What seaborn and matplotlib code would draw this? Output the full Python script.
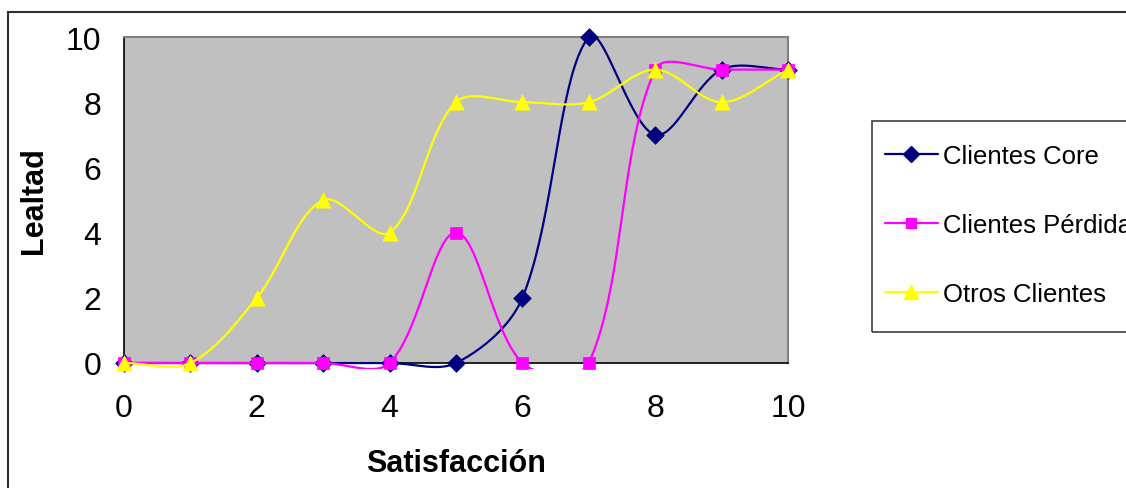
import numpy as np
import pandas as pd
import matplotlib
matplotlib.use("Agg")
import matplotlib.pyplot as plt
from matplotlib.lines import Line2D
from matplotlib.patches import Rectangle
import seaborn as sns

# ---- data ----
satisfaccion = [0, 1, 2, 3, 4, 5, 6, 7, 8, 9, 10]
clientes_core = [0, 0, 0, 0, 0, 0, 2, 10, 7, 9, 9]
clientes_perdida = [0, 0, 0, 0, 0, 4, 0, 0, 9, 9, 9]
otros_clientes = [0, 0, 2, 5, 4, 8, 8, 8, 9, 8, 9]
series_names = ["Clientes Core", "Clientes Pérdida", "Otros Clientes"]
x_ticks = [0, 2, 4, 6, 8, 10]
y_ticks = [0, 2, 4, 6, 8, 10]

colors = ["#000080", "#FF00FF", "#FFFF00"]
markers = ["D", "s", "^"]
msizes = [9, 8.5, 11]

W, H = 1126, 489
AX_L, AX_R, AX_T, AX_B = 124, 788, 38, 364
SX = (AX_R - AX_L) / 10.0   # px per x unit
SY = (AX_B - AX_T) / 10.0   # px per y unit


def smooth(xs, ys, n=40):
    """Excel-like smoothed line: Bezier through the points with
    chord-length weighted tangents (computed in screen space)."""
    P = np.column_stack([np.asarray(xs, float) * SX, np.asarray(ys, float) * SY])
    P = np.vstack([P[0], P, P[-1]])
    out = []
    t = np.linspace(0, 1, n)
    for i in range(1, len(P) - 2):
        p0, p1, p2, p3 = P[i - 1], P[i], P[i + 1], P[i + 2]
        d01 = np.hypot(*(p1 - p0))
        d12 = np.hypot(*(p2 - p1))
        d23 = np.hypot(*(p3 - p2))
        f1 = d12 / (d01 + d12) / 3.0 if d01 + d12 > 0 else 0
        f2 = d12 / (d12 + d23) / 3.0 if d12 + d23 > 0 else 0
        c1 = p1 + (p2 - p0) * f1
        c2 = p2 - (p3 - p1) * f2
        seg = ((1 - t) ** 3)[:, None] * p1 + (3 * (1 - t) ** 2 * t)[:, None] * c1 \
            + (3 * (1 - t) * t ** 2)[:, None] * c2 + (t ** 3)[:, None] * p2
        out.append(seg if i == 1 else seg[1:])
    C = np.vstack(out)
    return C[:, 0] / SX, C[:, 1] / SY


sns.set_theme(style="white")
plt.rcParams["font.family"] = ["Liberation Sans", "DejaVu Sans"]
plt.rcParams["text.color"] = "black"
plt.rcParams["axes.labelcolor"] = "black"

fig = plt.figure(figsize=(W / 100, H / 100), dpi=100)
fig.patch.set_facecolor("white")
ax = fig.add_axes([AX_L / W, 1 - AX_B / H, (AX_R - AX_L) / W, (AX_B - AX_T) / H])
ax.set_facecolor("#C0C0C0")

clip_rect = Rectangle((-1, -6 / SY), 12, 12 + 6 / SY, transform=ax.transData,
                      visible=False)
ax.add_patch(clip_rect)

all_series = [clientes_core, clientes_perdida, otros_clientes]
for k, (name, ys) in enumerate(zip(series_names, all_series)):
    cx, cy = smooth(satisfaccion, ys)
    dfc = pd.DataFrame({"x": cx, "y": cy})
    sns.lineplot(data=dfc, x="x", y="y", ax=ax, color=colors[k], lw=1.6,
                 sort=False, estimator=None, zorder=3 + k)
    ln = ax.lines[-1]
    ln.set_clip_on(True)
    ln.set_clip_path(clip_rect)
    dfp = pd.DataFrame({"x": satisfaccion, "y": ys})
    sns.scatterplot(data=dfp, x="x", y="y", ax=ax, color=colors[k],
                    marker=markers[k], s=msizes[k] ** 2, edgecolor=colors[k],
                    linewidth=0.5, clip_on=False, zorder=3.5 + k)

ax.set_xlim(0, 10)
ax.set_ylim(0, 10)
ax.set_xticks(x_ticks)
ax.set_yticks(y_ticks)
ax.tick_params(axis="both", labelsize=23, colors="black", direction="out",
               length=6.5, width=1)
ax.tick_params(axis="x", pad=15)
ax.tick_params(axis="y", pad=10)
for s in ["left", "bottom"]:
    ax.spines[s].set_color("black")
    ax.spines[s].set_linewidth(1.2)
for s in ["top", "right"]:
    ax.spines[s].set_color("#808080")
    ax.spines[s].set_linewidth(1.5)
ax.set_xlabel("Satisfacción", fontsize=22, fontweight="bold", labelpad=18)
ax.set_ylabel("Lealtad", fontsize=22, fontweight="bold", labelpad=12)

handles = [Line2D([0], [0], color=colors[k], lw=1.6, marker=markers[k],
                  markersize=msizes[k] * 0.9,
                  markeredgecolor=colors[k]) for k in range(3)]
leg = fig.legend(handles, series_names, loc="upper left",
                 bbox_to_anchor=(885 / W, 1 - 145 / H), fontsize=18.5,
                 frameon=False, handlelength=2.05,
                 handletextpad=0.2, labelspacing=1.75, borderpad=0,
                 borderaxespad=0)

# legend frame and chart border
fig.patches.append(Rectangle((872 / W, 1 - 333 / H), 0.5, (333 - 122) / H,
                             transform=fig.transFigure, fill=False,
                             edgecolor="#404040", lw=1.2, zorder=0))
fig.patches.append(Rectangle((8 / W, -0.1), 1.2, 1 - 13 / H + 0.1,
                             transform=fig.transFigure, fill=False,
                             edgecolor="#303030", lw=1.5, zorder=0))

fig.savefig("out.png", dpi=100)
